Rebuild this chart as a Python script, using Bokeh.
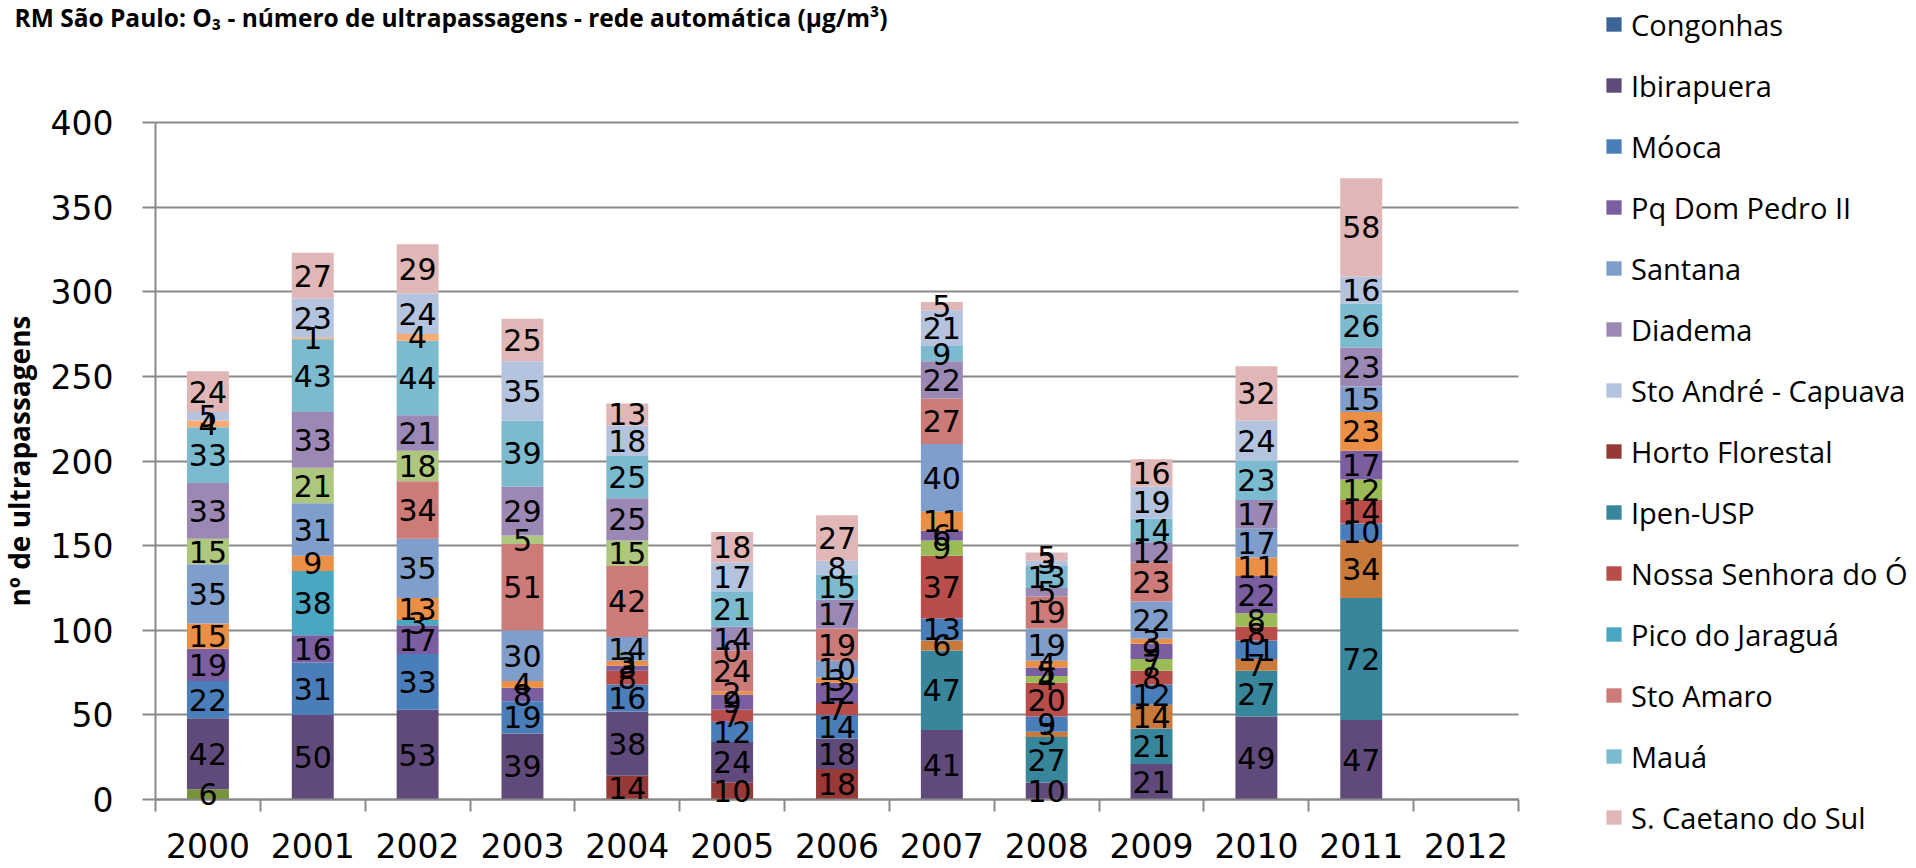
from bokeh.plotting import figure
from bokeh.models import (ColumnDataSource, FixedTicker, Legend, LegendItem,
                          LabelSet, Label, Range1d)
from bokeh.core.properties import value
from bokeh.embed import file_html
from bokeh.resources import INLINE

N = None
years = list(range(2000, 2013))

congonhas = [N] * 13
horto_florestal = [N, N, N, N, 14, 10, 18, N, N, N, N, N, N]
serie_oliva = [6, N, N, N, N, N, N, N, N, N, N, N, N]
ibirapuera = [42, 50, 53, 39, 38, 24, 18, 41, 10, 21, 49, 47, N]
ipen_usp = [N, N, N, N, N, N, N, 47, 27, 21, 27, 72, N]
serie_laranja_escura = [N, N, N, N, N, N, N, 6, 3, 14, 7, 34, N]
mooca = [22, 31, 33, 19, 16, 12, 14, 13, 9, 12, 11, 10, N]
nossa_senhora = [N, N, N, N, 8, 7, 7, 37, 20, 8, 8, 14, N]
serie_verde = [N, N, N, N, N, N, N, 9, 4, 7, 8, 12, N]
pq_dom_pedro = [19, 16, 17, 8, 3, 9, 12, 6, 5, 9, 22, 17, N]
pico_jaragua = [N, 38, 3, N, N, N, N, N, N, N, N, N, N]
serie_laranja = [15, 9, 13, 4, 3, 2, 3, 11, 4, 3, 11, 23, N]
santana = [35, 31, 35, 30, 14, N, 10, 40, 19, 22, 17, 15, N]
sto_amaro = [N, N, 34, 51, 42, 24, 19, 27, 19, 23, N, N, N]
serie_verde_clara = [15, 21, 18, 5, 15, 0, N, N, N, N, N, N, N]
diadema = [33, 33, 21, 29, 25, 14, 17, 22, 5, 12, 17, 23, N]
maua = [33, 43, 44, 39, 25, 21, 15, 9, 13, 14, 23, 26, N]
serie_laranja_clara = [4, 1, 4, N, N, N, N, N, N, N, N, N, N]
sto_andre = [5, 23, 24, 35, 18, 17, 8, 21, 3, 19, 24, 16, N]
s_caetano = [24, 27, 29, 25, 13, 18, 27, 5, 5, 16, 32, 58, N]

y_ticks = list(range(0, 401, 50))

# stack order (bottom -> top): key, legend name (None = not in visible legend), data, colour
stack = [
    ("s00", "Congonhas", congonhas, "#3B6497"),
    ("s01", "Horto Florestal", horto_florestal, "#973936"),
    ("s02", None, serie_oliva, "#77933C"),
    ("s03", "Ibirapuera", ibirapuera, "#604A7B"),
    ("s04", "Ipen-USP", ipen_usp, "#37869B"),
    ("s05", None, serie_laranja_escura, "#C9793A"),
    ("s06", "Móoca", mooca, "#4A7EBB"),
    ("s07", "Nossa Senhora do Ó", nossa_senhora, "#B94D4A"),
    ("s08", None, serie_verde, "#9BBB59"),
    ("s09", "Pq Dom Pedro II", pq_dom_pedro, "#7A5EA0"),
    ("s10", "Pico do Jaraguá", pico_jaragua, "#4AA7C1"),
    ("s11", None, serie_laranja, "#EB8F46"),
    ("s12", "Santana", santana, "#7F9ECB"),
    ("s13", "Sto Amaro", sto_amaro, "#CC7B79"),
    ("s14", None, serie_verde_clara, "#AEC77E"),
    ("s15", "Diadema", diadema, "#9C88B4"),
    ("s16", "Mauá", maua, "#7BBACF"),
    ("s17", None, serie_laranja_clara, "#F8AC72"),
    ("s18", "Sto André - Capuava", sto_andre, "#B4C3DE"),
    ("s19", "S. Caetano do Sul", s_caetano, "#E0B7B6"),
]
legend_order = ["Congonhas", "Ibirapuera", "Móoca", "Pq Dom Pedro II", "Santana",
                "Diadema", "Sto André - Capuava", "Horto Florestal", "Ipen-USP",
                "Nossa Senhora do Ó", "Pico do Jaraguá", "Sto Amaro", "Mauá",
                "S. Caetano do Sul"]

data = {"year": years}
for key, name, vals, col in stack:
    data[key] = [0 if v is None else v for v in vals]
src = ColumnDataSource(data)

# label positions (segment midpoints)
lx, ly, lt = [], [], []
for i, yr in enumerate(years):
    base = 0
    for key, name, vals, col in stack:
        v = vals[i]
        if v is None:
            continue
        lx.append(yr)
        ly.append(base + v / 2)
        lt.append(str(v))
        base += v
lsrc = ColumnDataSource(dict(x=lx, y=ly, text=lt))

# canvas geometry: frame covers whole canvas; axes are drawn at fixed locations
W, H = 1913, 866
X0_PX, XN_PX = 155, 1518      # x of 1999.5 and 2012.5
Y0_PX, Y400_PX = 799, 122     # y of 0 and 400
kx = (XN_PX - X0_PX) / 13.0
ky = (Y0_PX - Y400_PX) / 400.0
x_start = 1999.5 - X0_PX / kx
x_end = x_start + W / kx
y_end = 400 + Y400_PX / ky
y_start = -(H - Y0_PX) / ky

p = figure(width=W, height=H, output_backend="svg", toolbar_location=None,
           x_range=Range1d(x_start, x_end), y_range=Range1d(y_start, y_end),
           min_border=0, min_border_left=0, min_border_right=0,
           min_border_top=0, min_border_bottom=0)
p.outline_line_color = None
p.background_fill_color = "white"
p.border_fill_color = "white"

keys = [s[0] for s in stack]
cols = [s[3] for s in stack]
rends = p.vbar_stack(keys, x="year", width=0.4, source=src, fill_color=cols,
                     line_color=None)

labels = LabelSet(x="x", y="y", text="text", source=lsrc, text_align="center",
                  text_baseline="middle", text_font=value("DejaVu Sans"),
                  text_font_size="30px", text_color="black")
p.add_layout(labels)

GRAY = "#898989"
yt = FixedTicker(ticks=y_ticks)
p.yaxis.ticker = yt
p.ygrid.ticker = yt
p.ygrid.grid_line_color = GRAY
p.ygrid.grid_line_width = 2
p.ygrid.bounds = (0, 400)
p.ygrid.cross_bounds = (1999.5, 2012.5)
p.xgrid.visible = False

for ax in (p.xaxis[0], p.yaxis[0]):
    ax.axis_line_color = GRAY
    ax.axis_line_width = 2
    ax.major_label_text_font = "DejaVu Sans"
    ax.major_label_text_font_size = "33px"
    ax.major_label_text_color = "black"

p.yaxis.fixed_location = 1999.5
p.yaxis.bounds = (0, 400)
p.yaxis.major_tick_line_color = GRAY
p.yaxis.major_tick_line_width = 2
p.yaxis.major_tick_out = 13
p.yaxis.major_tick_in = 0
p.yaxis.minor_tick_line_color = None
p.yaxis.major_label_standoff = 29
p.yaxis.axis_label = "nº de ultrapassagens"
p.yaxis.axis_label_text_font = "Open Sans"
p.yaxis.axis_label_text_font_style = "bold"
p.yaxis.axis_label_text_font_size = "28px"
p.yaxis.axis_label_text_color = "black"
p.yaxis.axis_label_standoff = 10

p.xaxis.fixed_location = 0
p.xaxis.bounds = (1999.5, 2012.5)
p.xaxis.ticker = FixedTicker(ticks=years, minor_ticks=[y - 0.5 for y in years] + [2012.5])
p.xaxis.major_tick_line_color = None
p.xaxis.major_tick_out = 12
p.xaxis.major_tick_in = 0
p.xaxis.minor_tick_line_color = GRAY
p.xaxis.minor_tick_line_width = 2
p.xaxis.minor_tick_out = 12
p.xaxis.minor_tick_in = 0
p.xaxis.major_label_standoff = 21

title = Label(x=x_start + 14 / kx, y=y_end - 17 / ky, x_units="data", y_units="data",
              text="RM São Paulo: O₃ - número de ultrapassagens - rede automática (µg/m³)",
              text_font="Open Sans", text_font_style="bold", text_font_size="24.5px",
              text_align="left", text_baseline="middle", text_color="black")
p.add_layout(title)

rmap = {s[1]: r for s, r in zip(stack, rends) if s[1] is not None}
items = [LegendItem(label=n, renderers=[rmap[n]]) for n in legend_order]
LAB_H, SPACING = 41, 20
leg_h = len(items) * LAB_H + (len(items) - 1) * SPACING
leg_top = 24 - LAB_H / 2
legend = Legend(items=items, location=(1604, H - (leg_top + leg_h)), orientation="vertical",
                glyph_width=19, glyph_height=18, label_standoff=8,
                label_height=LAB_H, spacing=SPACING, padding=0, margin=0,
                border_line_color=None, background_fill_alpha=0,
                label_text_font="Open Sans", label_text_font_size="29px",
                label_text_color="black")
p.add_layout(legend)

open("out.html", "w").write(file_html(p, INLINE))
